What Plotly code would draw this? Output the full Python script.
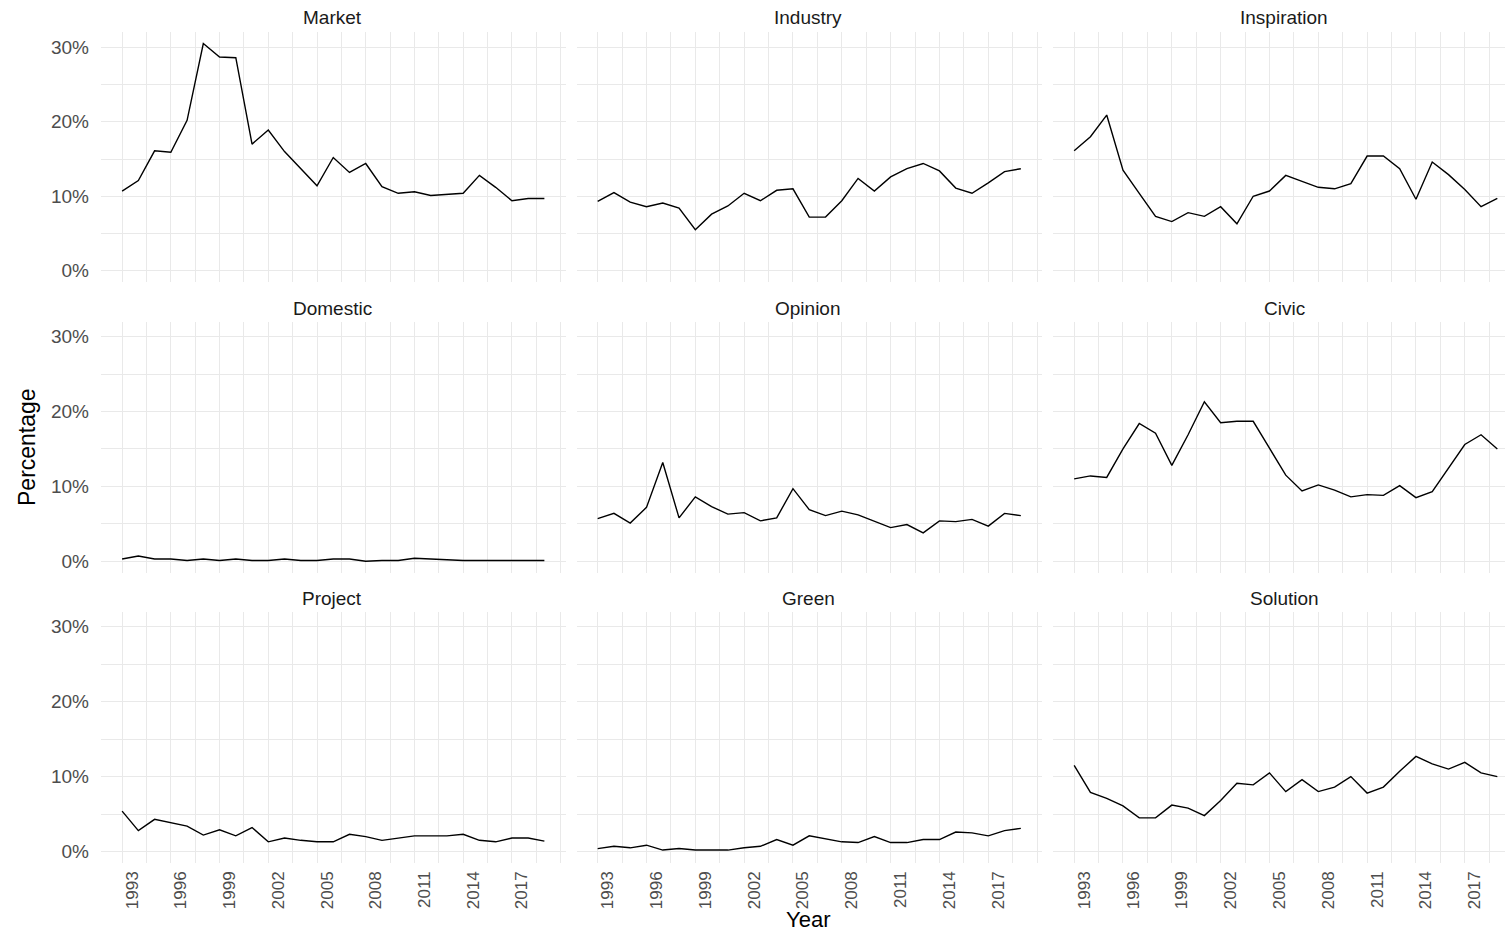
import plotly.graph_objects as go

years = list(range(1993, 2020))
panels = ["Market", "Industry", "Inspiration",
          "Domestic", "Opinion", "Civic",
          "Project", "Green", "Solution"]

market = [10.7, 12.1, 16.1, 15.9, 20.2, 30.5, 28.7, 28.6, 17.0, 18.9, 16.0, 13.7, 11.4, 15.2,
          13.2, 14.4, 11.3, 10.4, 10.6, 10.1, 10.2, 10.4, 12.8, 11.2, 9.4, 9.7, 9.7]
industry = [9.3, 10.5, 9.2, 8.6, 9.1, 8.4, 5.5, 7.6, 8.7, 10.4, 9.4, 10.8, 11.0, 7.2,
            7.2, 9.4, 12.4, 10.7, 12.6, 13.7, 14.4, 13.4, 11.1, 10.4, 11.8, 13.3, 13.7]
inspiration = [16.1, 18.0, 20.9, 13.5, 10.4, 7.3, 6.6, 7.8, 7.3, 8.6, 6.3, 10.0, 10.7, 12.8,
               12.0, 11.2, 11.0, 11.7, 15.4, 15.4, 13.7, 9.6, 14.6, 12.9, 10.9, 8.6, 9.7]
domestic = [0.3, 0.7, 0.3, 0.3, 0.1, 0.3, 0.1, 0.3, 0.1, 0.1, 0.3, 0.1, 0.1, 0.3,
            0.3, 0.0, 0.1, 0.1, 0.4, 0.3, 0.1, 0.1, 0.1, 0.1, 0.1, 0.1, 0.1]
opinion = [5.7, 6.4, 5.1, 7.2, 13.2, 5.8, 8.6, 7.3, 6.3, 6.5, 5.4, 5.8, 9.7, 6.9,
           6.1, 6.7, 6.2, 5.4, 4.5, 4.9, 3.8, 5.4, 5.3, 5.6, 4.7, 6.4, 6.1]
civic = [11.0, 11.4, 11.2, 15.0, 18.4, 17.1, 12.8, 16.9, 21.3, 18.5, 18.7, 18.7, 15.1, 11.5,
         9.4, 10.2, 9.5, 8.6, 8.9, 8.8, 10.1, 8.5, 9.3, 12.4, 15.6, 16.9, 15.0]
project = [5.4, 2.8, 4.3, 3.8, 3.4, 2.2, 2.9, 2.1, 3.2, 1.3, 1.8, 1.5, 1.3, 1.3,
           2.3, 2.0, 1.5, 1.8, 2.1, 2.1, 2.1, 2.3, 1.5, 1.3, 1.8, 1.8, 1.4]
green = [0.4, 0.7, 0.5, 0.85, 0.2, 0.4, 0.2, 0.2, 0.2, 0.5, 0.7, 1.6, 0.85, 2.1,
         1.7, 1.3, 1.2, 2.0, 1.2, 1.2, 1.6, 1.6, 2.6, 2.5, 2.1, 2.8, 3.1]
solution = [11.5, 7.9, 7.1, 6.1, 4.5, 4.5, 6.2, 5.8, 4.8, 6.8, 9.1, 8.9, 10.5, 8.0,
            9.6, 8.0, 8.6, 10.0, 7.8, 8.6, 10.7, 12.7, 11.7, 11.0, 11.9, 10.5, 10.0]
series = [market, industry, inspiration, domestic, opinion, civic, project, green, solution]

x_ticks = list(range(1993, 2018, 3))
y_ticks = [0, 10, 20, 30]
y_tick_text = ["0%", "10%", "20%", "30%"]

W, H = 1505, 934
col_px = [(101, 565.5), (576.5, 1042), (1053, 1505)]
row_px = [(32.2, 282.1), (321.5, 572.7), (611.5, 863.0)]
strip_x = [332, 808, 1284]
strip_y = [17, 308, 598]
px_per_year = (1042 - 576.5) / 28.6
x_lo = 1991.7
x_ranges = [[x_lo, 2020.3], [x_lo, 2020.3], [x_lo, x_lo + (1505 - 1053) / px_per_year]]
y_range = [-1.525, 32.025]

FONT = "Liberation Sans, Arial, sans-serif"
GRID = "#E9E9E9"

fig = go.Figure()
layout = dict(width=W, height=H, margin=dict(l=0, r=0, t=0, b=0),
              paper_bgcolor="white", plot_bgcolor="white", showlegend=False,
              font=dict(family=FONT))
annotations = []

for i, (name, vals) in enumerate(zip(panels, series)):
    r, c = divmod(i, 3)
    n = i + 1
    xa = "xaxis" if n == 1 else f"xaxis{n}"
    ya = "yaxis" if n == 1 else f"yaxis{n}"
    xref = "x" if n == 1 else f"x{n}"
    yref = "y" if n == 1 else f"y{n}"
    fig.add_trace(go.Scatter(x=years, y=vals, mode="lines",
                             line=dict(color="black", width=1.4),
                             xaxis=xref, yaxis=yref, hoverinfo="skip"))
    x0, x1 = col_px[c]
    y0, y1 = row_px[r]
    layout[xa] = dict(domain=[x0 / W, x1 / W], anchor=yref, range=x_ranges[c],
                      tickmode="array", tickvals=x_ticks,
                      ticktext=[str(v) for v in x_ticks],
                      showticklabels=(r == 2), tickangle=-90, ticks="",
                      ticklabelshift=10, ticklabelstandoff=4,
                      tickfont=dict(size=17, color="#4D4D4D", family=FONT),
                      showgrid=True, gridcolor=GRID, gridwidth=1.3,
                      minor=dict(tick0=1993, dtick=1.5, showgrid=True,
                                 gridcolor=GRID, gridwidth=1.2),
                      zeroline=False, showline=False, fixedrange=True)
    layout[ya] = dict(domain=[1 - y1 / H, 1 - y0 / H], anchor=xref, range=y_range,
                      tickmode="array", tickvals=y_ticks, ticktext=y_tick_text,
                      showticklabels=(c == 0), ticks="", ticklabelstandoff=11,
                      tickfont=dict(size=19, color="#4D4D4D", family=FONT),
                      showgrid=True, gridcolor=GRID, gridwidth=1.3,
                      minor=dict(tick0=0, dtick=5, showgrid=True,
                                 gridcolor=GRID, gridwidth=1.2),
                      zeroline=False, showline=False, fixedrange=True)
    annotations.append(dict(text=name, x=strip_x[c] / W, y=1 - strip_y[r] / H,
                            xref="paper", yref="paper",
                            xanchor="center", yanchor="middle", showarrow=False,
                            font=dict(size=19, color="#1A1A1A", family=FONT)))

annotations.append(dict(text="Percentage", x=27 / W, y=1 - 447 / H, xref="paper", yref="paper",
                        textangle=-90, xanchor="center", yanchor="middle", showarrow=False,
                        font=dict(size=23, color="black", family=FONT)))
annotations.append(dict(text="Year", x=808 / W, y=1 - 919 / H, xref="paper", yref="paper",
                        xanchor="center", yanchor="middle", showarrow=False,
                        font=dict(size=22, color="black", family=FONT)))
layout["annotations"] = annotations
fig.update_layout(**layout)
fig.write_html("out.html")
